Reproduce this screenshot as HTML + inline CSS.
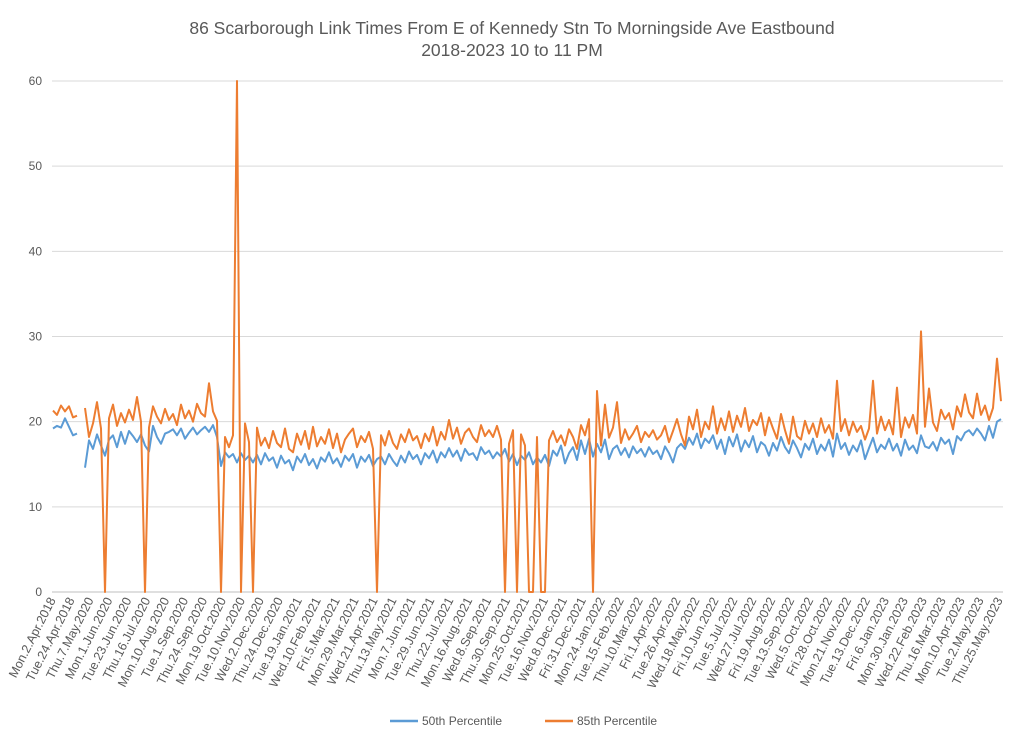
<!DOCTYPE html>
<html><head><meta charset="utf-8">
<style>
html,body{margin:0;padding:0;background:#fff;}
svg{display:block;font-family:"Liberation Sans",sans-serif;}
</style></head>
<body>
<svg id="chart" width="1024" height="745" viewBox="0 0 1024 745" xmlns="http://www.w3.org/2000/svg">
<rect x="0" y="0" width="1024" height="745" fill="#fff"/>
<text x="512" y="34" text-anchor="middle" font-size="17.5" fill="#595959">86 Scarborough Link Times From E of Kennedy Stn To Morningside Ave Eastbound</text>
<text x="512" y="56" text-anchor="middle" font-size="17.5" fill="#595959">2018-2023 10 to 11 PM</text>
<g id="grid"></g>
<g id="yticks"></g>
<g id="xticks"></g>
<g id="series"></g>
<g>
<line x1="390" y1="721" x2="418" y2="721" stroke="#5B9BD5" stroke-width="2.5"/>
<text x="422" y="725" font-size="12" fill="#595959">50th Percentile</text>
<line x1="545" y1="721" x2="573" y2="721" stroke="#ED7D31" stroke-width="2.5"/>
<text x="577" y="725" font-size="12" fill="#595959">85th Percentile</text>
</g>
</svg>
<script>
const yTicks = [0,10,20,30,40,50,60];
const xLabels = ["Mon.2.Apr.2018","Tue.24.Apr.2018","Thu.7.May.2020","Mon.1.Jun.2020","Tue.23.Jun.2020","Thu.16.Jul.2020","Mon.10.Aug.2020","Tue.1.Sep.2020","Thu.24.Sep.2020","Mon.19.Oct.2020","Tue.10.Nov.2020","Wed.2.Dec.2020","Thu.24.Dec.2020","Tue.19.Jan.2021","Wed.10.Feb.2021","Fri.5.Mar.2021","Mon.29.Mar.2021","Wed.21.Apr.2021","Thu.13.May.2021","Mon.7.Jun.2021","Tue.29.Jun.2021","Thu.22.Jul.2021","Mon.16.Aug.2021","Wed.8.Sep.2021","Thu.30.Sep.2021","Mon.25.Oct.2021","Tue.16.Nov.2021","Wed.8.Dec.2021","Fri.31.Dec.2021","Mon.24.Jan.2022","Tue.15.Feb.2022","Thu.10.Mar.2022","Fri.1.Apr.2022","Tue.26.Apr.2022","Wed.18.May.2022","Fri.10.Jun.2022","Tue.5.Jul.2022","Wed.27.Jul.2022","Fri.19.Aug.2022","Tue.13.Sep.2022","Wed.5.Oct.2022","Fri.28.Oct.2022","Mon.21.Nov.2022","Tue.13.Dec.2022","Fri.6.Jan.2023","Mon.30.Jan.2023","Wed.22.Feb.2023","Thu.16.Mar.2023","Mon.10.Apr.2023","Tue.2.May.2023","Thu.25.May.2023"];
const p50 = [19.2,19.5,19.3,20.4,19.4,18.4,18.6,null,14.6,17.8,
16.8,18.5,17.2,16.0,17.9,18.4,17.0,18.8,17.4,18.9,
18.3,17.6,18.5,17.2,16.5,19.5,18.2,17.4,18.6,18.8,
19.1,18.4,19.2,18.0,18.7,19.3,18.5,19.0,19.4,18.8,
19.6,18.2,14.8,16.4,15.8,16.2,15.2,16.3,15.5,16.0,
15.2,16.1,15.0,16.3,15.4,15.8,14.6,16.0,15.1,15.5,
14.3,15.9,15.2,16.2,14.9,15.6,14.5,15.8,15.3,16.4,
15.1,15.7,14.7,16.0,15.4,16.2,14.6,15.9,15.3,16.1,
14.8,15.6,15.9,15.0,16.2,15.4,14.8,16.0,15.2,16.5,
15.6,16.1,15.0,16.3,15.7,16.6,15.2,16.4,15.8,16.9,
15.9,16.6,15.4,16.8,16.1,16.3,15.5,17.0,16.2,16.6,
15.7,16.4,15.9,16.8,15.3,16.2,14.9,16.0,15.5,16.4,
15.0,15.8,15.2,16.1,14.8,16.6,16.0,17.2,15.1,16.3,
17.0,15.5,17.8,16.2,18.0,15.9,17.4,16.4,17.9,15.6,
16.8,17.2,16.1,16.9,15.8,17.1,16.3,16.8,15.9,17.0,
16.2,16.6,15.6,17.1,16.3,15.2,16.9,17.4,16.8,18.1,
17.3,18.6,16.9,18.0,17.5,18.4,16.8,17.9,16.2,18.2,
17.1,18.5,16.5,17.8,17.0,18.3,16.4,17.6,17.2,16.0,
17.5,16.6,18.2,17.0,16.3,17.8,16.9,15.8,17.4,16.7,
18.0,16.2,17.3,16.6,17.9,15.9,18.6,16.8,17.5,16.1,
17.2,16.5,17.8,15.6,16.9,18.1,16.4,17.3,16.8,18.0,
16.6,17.4,16.0,17.9,16.7,17.2,16.3,18.4,17.1,16.9,
17.6,16.6,18.1,17.4,17.9,16.2,18.3,17.8,18.7,19.0,
18.4,19.2,18.6,17.8,19.5,18.1,20.0,20.3];
const p85 = [21.3,20.8,21.9,21.2,21.8,20.5,20.7,null,21.6,18.2,
19.8,22.3,19.2,0,20.4,22.0,19.5,21.0,19.9,21.4,
20.2,22.9,20.0,0,19.3,21.8,20.6,19.8,21.5,20.2,
20.9,19.6,22.0,20.4,21.3,20.0,22.1,21.0,20.6,24.5,
21.2,20.1,0,18.2,17.0,18.4,60,0,19.8,17.6,
0,19.3,17.2,18.1,16.9,18.9,17.5,17.0,19.2,16.8,
16.4,18.6,17.3,18.9,16.8,19.4,17.1,18.2,17.4,19.1,
16.9,18.6,16.4,17.9,18.6,19.2,17.0,18.3,17.6,18.8,
16.8,0,18.4,17.2,18.9,17.5,16.8,18.5,17.6,19.1,
17.8,18.3,16.9,18.6,17.7,19.4,17.2,18.8,17.9,20.2,
18.0,19.3,17.4,18.7,19.2,18.2,17.6,19.6,18.3,19.0,
18.2,19.5,17.9,0,17.4,19.0,0,18.5,17.2,0,
0,18.2,0,0,17.8,18.9,17.6,18.4,17.2,19.1,
18.2,16.8,19.6,18.4,20.3,0,23.6,17.2,22.0,18.1,
19.3,22.3,17.5,19.1,17.9,18.6,19.5,17.6,18.8,18.2,
19.0,17.9,18.4,19.5,17.6,18.9,20.3,18.5,17.2,20.6,
19.1,21.4,18.2,20.0,19.1,21.8,18.6,20.4,19.0,21.2,
18.8,20.7,19.4,21.6,18.9,20.2,19.6,21.0,18.4,20.5,
19.2,18.0,20.9,19.0,17.4,20.6,18.3,17.9,20.1,18.6,
19.8,18.2,20.4,18.7,19.6,18.0,24.8,18.9,20.3,18.4,
20.0,18.8,19.5,17.9,19.2,24.8,18.6,20.6,19.0,20.2,
18.5,24.0,18.2,20.5,19.3,20.8,18.6,30.6,19.4,23.9,
19.9,18.9,21.4,20.3,21.0,19.1,21.8,20.6,23.2,21.1,
20.4,23.3,20.8,21.9,20.2,21.6,27.4,22.4];

const NS = "http://www.w3.org/2000/svg";
const X0 = 53, X1 = 1001, Y0 = 592, Y1 = 81, YMAX = 60;
function yScale(v){ return Y0 - (v / YMAX) * (Y0 - Y1); }
function xScale(i, n){ return X0 + i * (X1 - X0) / (n - 1); }

const grid = document.getElementById('grid');
const yt = document.getElementById('yticks');
yTicks.forEach(v => {
  const l = document.createElementNS(NS, 'line');
  l.setAttribute('x1', 52); l.setAttribute('x2', 1003);
  l.setAttribute('y1', yScale(v)); l.setAttribute('y2', yScale(v));
  l.setAttribute('stroke', v === 0 ? '#bfbfbf' : '#d9d9d9');
  l.setAttribute('stroke-width', 1);
  
  
  grid.appendChild(l);
  const t = document.createElementNS(NS, 'text');
  t.setAttribute('x', 42); t.setAttribute('y', yScale(v) + 4);
  t.setAttribute('text-anchor', 'end');
  t.setAttribute('font-size', '12');
  t.setAttribute('fill', '#595959');
  t.textContent = v;
  
  
  yt.appendChild(t);
});

const xt = document.getElementById('xticks');
const LX0 = 53, LX1 = 1000;
xLabels.forEach((s, i) => {
  const x = LX0 + i * (LX1 - LX0) / (xLabels.length - 1);
  const t = document.createElementNS(NS, 'text');
  t.setAttribute('transform', 'translate(' + (x + 3) + ',600) rotate(-63)');
  t.setAttribute('text-anchor', 'end');
  t.setAttribute('font-size', '12.5');
  t.setAttribute('fill', '#595959');
  t.textContent = s;
  
  
  xt.appendChild(t);
});

function drawSeries(arr, color, name){
  let d = '', pen = false;
  arr.forEach((v, i) => {
    if (v === null) { pen = false; return; }
    d += (pen ? 'L' : 'M') + xScale(i, arr.length).toFixed(1) + ',' + yScale(v).toFixed(1);
    pen = true;
  });
  const p = document.createElementNS(NS, 'path');
  p.setAttribute('d', d);
  p.setAttribute('fill', 'none');
  p.setAttribute('stroke', color);
  p.setAttribute('stroke-width', '2');
  p.setAttribute('stroke-linejoin', 'round');
  
  
  document.getElementById('series').appendChild(p);
}
drawSeries(p50, '#5B9BD5', 'series-50th-percentile');
drawSeries(p85, '#ED7D31', 'series-85th-percentile');
</script>
</body></html>
